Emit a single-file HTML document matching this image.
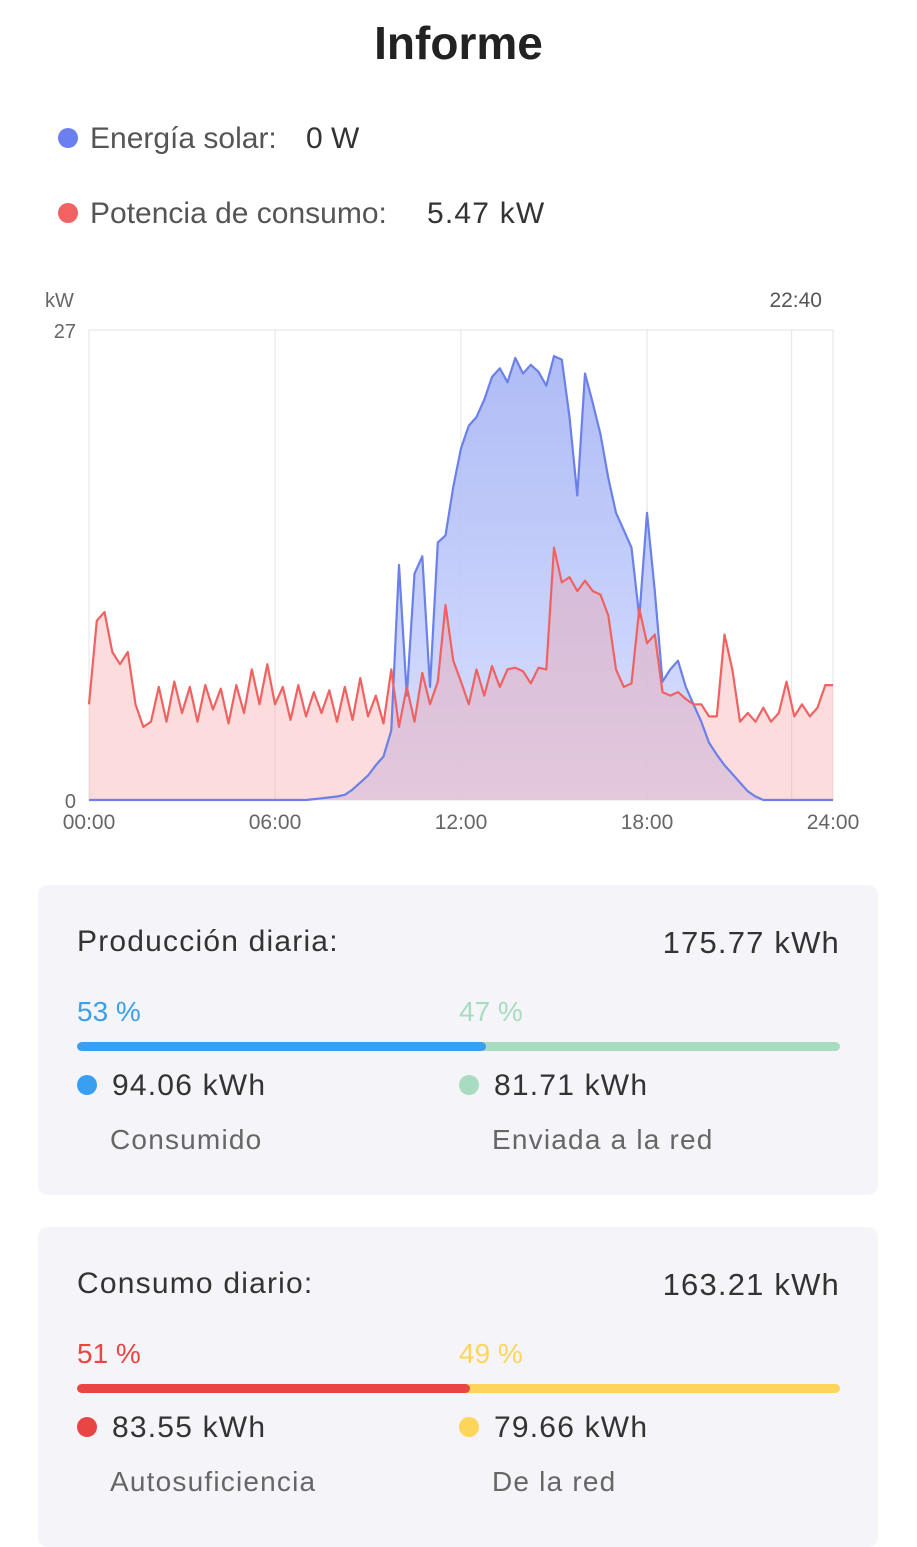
<!DOCTYPE html>
<html><head><meta charset="utf-8">
<style>
body{margin:0;width:917px;height:1519px;background:#fff;font-family:"Liberation Sans",sans-serif;position:relative;overflow:hidden}
.t{position:absolute;white-space:nowrap;line-height:1}
.dot{position:absolute;border-radius:50%}
.card{position:absolute;left:38px;width:840px;background:#f5f5f9;border-radius:10px}
.card .t{letter-spacing:1.2px}
.card .p{letter-spacing:0}
</style></head><body>
<div class="t" style="left:0;width:917px;text-align:center;top:20px;font-size:46px;font-weight:bold;color:#222">Informe</div>

<div class="dot" style="left:58px;top:128px;width:20px;height:20px;background:#6b80ee"></div>
<div class="t" style="left:90px;top:124px;font-size:30px;color:#555">Energía solar:</div>
<div class="t" style="left:306px;top:124px;font-size:30px;color:#333">0 W</div>
<div class="dot" style="left:58px;top:203px;width:20px;height:20px;background:#f26262"></div>
<div class="t" style="left:90px;top:199px;font-size:30px;color:#555">Potencia de consumo:</div>
<div class="t" style="left:427px;top:199px;font-size:30px;color:#333;letter-spacing:1.2px">5.47 kW</div>

<svg id="chart" width="917" height="850" style="position:absolute;left:0;top:0" xmlns="http://www.w3.org/2000/svg">
<defs>
<linearGradient id="gb" x1="0" y1="0" x2="0" y2="1"><stop offset="0" stop-color="#a6b4f4"/><stop offset="1" stop-color="#d6ddff"/></linearGradient>
</defs>
</svg>

<div class="card" style="top:885px;height:310px">
<div class="t" style="left:39px;top:42px;font-size:30px;color:#333">Producción diaria:</div>
<div class="t" style="right:38px;top:42px;font-size:31px;color:#333">175.77 kWh</div>
<div class="t p" style="left:39px;top:113px;font-size:28px;color:#3aa0ea">53 %</div>
<div class="t p" style="left:421px;top:113px;font-size:28px;color:#a8dcc0">47 %</div>
<div style="position:absolute;left:39px;top:157px;width:763px;height:9px;border-radius:5px;background:#a8dcc0;overflow:hidden"><div style="width:409px;height:9px;background:#3a9ff0;border-radius:5px"></div></div>
<div class="dot" style="left:39px;top:190px;width:20px;height:20px;background:#3a9ff0"></div>
<div class="t" style="left:74px;top:186px;font-size:30px;color:#333">94.06 kWh</div>
<div class="t" style="left:72px;top:241px;font-size:28px;color:#666">Consumido</div>
<div class="dot" style="left:421px;top:190px;width:20px;height:20px;background:#a8dcc0"></div>
<div class="t" style="left:456px;top:186px;font-size:30px;color:#333">81.71 kWh</div>
<div class="t" style="left:454px;top:241px;font-size:28px;color:#666">Enviada a la red</div>
</div>

<div class="card" style="top:1227px;height:320px">
<div class="t" style="left:39px;top:42px;font-size:30px;color:#333">Consumo diario:</div>
<div class="t" style="right:38px;top:42px;font-size:31px;color:#333">163.21 kWh</div>
<div class="t p" style="left:39px;top:113px;font-size:28px;color:#e84545">51 %</div>
<div class="t p" style="left:421px;top:113px;font-size:28px;color:#fcd55a">49 %</div>
<div style="position:absolute;left:39px;top:157px;width:763px;height:9px;border-radius:5px;background:#fcd55a;overflow:hidden"><div style="width:393px;height:9px;background:#e84545;border-radius:5px"></div></div>
<div class="dot" style="left:39px;top:190px;width:20px;height:20px;background:#e84545"></div>
<div class="t" style="left:74px;top:186px;font-size:30px;color:#333">83.55 kWh</div>
<div class="t" style="left:72px;top:241px;font-size:28px;color:#666">Autosuficiencia</div>
<div class="dot" style="left:421px;top:190px;width:20px;height:20px;background:#fcd55a"></div>
<div class="t" style="left:456px;top:186px;font-size:30px;color:#333">79.66 kWh</div>
<div class="t" style="left:454px;top:241px;font-size:28px;color:#666">De la red</div>
</div>

<script>
const xTicks = ["00:00","06:00","12:00","18:00","24:00"];
const xTickHours = [0,6,12,18,24];
const yMax = 27;
const currentTimeLabel = "22:40";
const currentHour = 22 + 40/60;
const solar = [0,0,0,0,0,0,0,0,0,0,0,0,0,0,0,0,0,0,0,0,0,0,0,0,0,0,0,0,0,0.05,0.1,0.15,0.2,0.3,0.6,1.0,1.4,2.0,2.5,4.0,13.5,6.0,13,14,6.5,14.8,15.2,18.0,20.2,21.5,22.0,23.0,24.3,24.8,24.0,25.4,24.5,25.0,24.6,23.8,25.5,25.3,22,17.5,24.5,22.8,21,18.5,16.5,15.5,14.5,10.5,16.5,12,6.8,7.5,8.0,6.5,5.5,4.5,3.3,2.6,2.0,1.5,1.0,0.5,0.2,0,0,0,0,0,0,0,0,0,0];
const consumption = [5.5,10.3,10.8,8.5,7.8,8.5,5.5,4.2,4.5,6.5,4.5,6.8,5.0,6.5,4.5,6.6,5.2,6.4,4.4,6.6,5.0,7.5,5.5,7.8,5.5,6.5,4.6,6.6,4.8,6.2,5.0,6.3,4.5,6.5,4.6,7.0,4.8,6.0,4.4,7.5,4.2,6.5,4.5,7.3,5.5,6.8,11.2,8.0,6.8,5.5,7.5,6.0,7.7,6.5,7.5,7.6,7.4,6.7,7.6,7.5,14.5,12.5,12.8,12.0,12.6,12.0,11.8,10.6,7.5,6.5,6.7,11.0,9.0,9.5,6.2,6.0,6.2,5.8,5.5,5.5,4.8,4.8,9.5,7.5,4.5,5.0,4.5,5.3,4.5,5.0,6.8,4.8,5.5,4.8,5.3,6.6,6.6];

const svg = document.getElementById('chart');
const NS = 'http://www.w3.org/2000/svg';
const X0 = 89, X1 = 833, Y0 = 800, Y1 = 330;
const xH = h => X0 + (X1 - X0) * h / 24;
const yV = v => Y0 - (Y0 - Y1) * v / yMax;
function mk(tag, attrs){const e=document.createElementNS(NS,tag);for(const k in attrs)e.setAttribute(k,attrs[k]);svg.appendChild(e);return e;}

const frame = mk('rect',{x:X0,y:Y1,width:X1-X0,height:Y0-Y1,fill:'none',stroke:'#e3e3e3','stroke-width':1});


xTickHours.forEach((h,i)=>{
  if(i>0 && i<xTickHours.length-1){
    const g = mk('line',{x1:xH(h),x2:xH(h),y1:Y1,y2:Y0,stroke:'#e3e3e3','stroke-width':1});
    
    
  }
  const t = mk('text',{x:xH(h),y:829,'text-anchor':'middle','font-size':21,fill:'#666','font-family':'Liberation Sans, sans-serif'});
  t.textContent = xTicks[i];
  
  
});
const cl = mk('line',{x1:xH(currentHour),x2:xH(currentHour),y1:Y1,y2:Y0,stroke:'#e3e3e3','stroke-width':1});


const ct = mk('text',{x:822,y:307,'text-anchor':'end','font-size':21,fill:'#555','font-family':'Liberation Sans, sans-serif'});
ct.textContent = currentTimeLabel;


const yu = mk('text',{x:45,y:307,'font-size':20,fill:'#666','font-family':'Liberation Sans, sans-serif'});
yu.textContent='kW';


const ymx = mk('text',{x:76,y:338,'text-anchor':'end','font-size':20,fill:'#666','font-family':'Liberation Sans, sans-serif'});
ymx.textContent=String(yMax);


const ymn = mk('text',{x:76,y:808,'text-anchor':'end','font-size':20,fill:'#666','font-family':'Liberation Sans, sans-serif'});
ymn.textContent='0';



function linePts(arr){const n=arr.length-1;return arr.map((v,i)=>xH(24*i/n).toFixed(1)+','+yV(v).toFixed(1));}
function drawSeries(arr, fill, op, name){
  const p = linePts(arr);
  const area = mk('polygon',{points:xH(0)+','+Y0+' '+p.join(' ')+' '+xH(24)+','+Y0,fill:fill,'fill-opacity':op});
  
  
  return p;
}
const ps = drawSeries(solar,'url(#gb)',0.9,'solar');
const pc = drawSeries(consumption,'#f59a9a',0.35,'consumption');
const ls = mk('polyline',{points:ps.join(' '),fill:'none',stroke:'#6b80e8','stroke-width':2.2,'stroke-linejoin':'round'});


const lc = mk('polyline',{points:pc.join(' '),fill:'none',stroke:'#f06262','stroke-width':2.2,'stroke-linejoin':'round'});


</script>
</body></html>
